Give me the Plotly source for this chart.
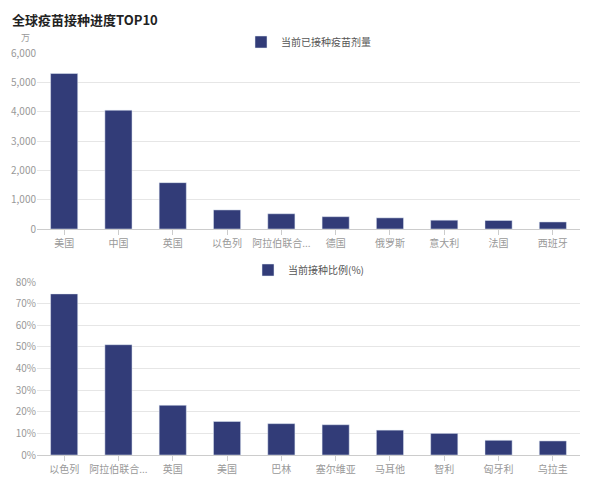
import plotly.graph_objects as go

top_cats = ['美国', '中国', '英国', '以色列', '阿拉伯联合...', '德国', '俄罗斯', '意大利', '法国', '西班牙']
top_vals = [5300, 4050, 1580, 650, 520, 420, 380, 300, 290, 240]
bot_cats = ['以色列', '阿拉伯联合...', '英国', '美国', '巴林', '塞尔维亚', '马耳他', '智利', '匈牙利', '乌拉圭']
bot_vals = [74.5, 51, 23, 15.5, 14.5, 14, 11.5, 10, 6.8, 6.5]

bar = '#323c78'
grid = '#e6e6e6'
axc = '#999999'
H = 468  # page body has an 8px margin

fig = go.Figure()
fig.add_bar(x=top_cats, y=top_vals, marker_color=bar, width=0.5, name='当前已接种疫苗剂量',
            xaxis='x', yaxis='y', legend='legend', showlegend=True)
fig.add_bar(x=bot_cats, y=bot_vals, marker_color=bar, width=0.5, name='当前接种比例(%)',
            xaxis='x2', yaxis='y2', legend='legend2', showlegend=True)

ax = dict(showgrid=False, linecolor='#cccccc', ticks='outside', tickcolor='#cccccc',
          tickfont=dict(size=10, color=axc))
fig.update_layout(
    width=578, height=H, paper_bgcolor='white', plot_bgcolor='white',
    margin=dict(l=29, r=6, t=0, b=0, autoexpand=False),
    font=dict(family='Noto Sans CJK SC', color=axc),
    xaxis=dict(**ax, domain=[0, 1], anchor='y'),
    yaxis=dict(domain=[(H - 221) / H, (H - 45) / H], range=[0, 6000], dtick=1000,
               tickformat=',', gridcolor=grid, tickfont=dict(size=10, color=axc), zeroline=False),
    xaxis2=dict(**ax, domain=[0, 1], anchor='y2'),
    yaxis2=dict(domain=[(H - 447) / H, (H - 274) / H], range=[0, 80], dtick=10,
                ticksuffix='%', gridcolor=grid, tickfont=dict(size=10, color=axc), zeroline=False),
    legend=dict(x=0.5, xanchor='center', y=(H - 34) / H, yanchor='middle', orientation='h',
                font=dict(size=10, color='#555')),
    legend2=dict(x=0.5, xanchor='center', y=(H - 262) / H, yanchor='middle', orientation='h',
                 font=dict(size=10, color='#555')),
    annotations=[
        dict(text='<b>全球疫苗接种进度TOP10</b>', x=-0.05, y=1, xref='paper', yref='paper',
             xanchor='left', yanchor='top', showarrow=False,
             font=dict(size=13, color='#222')),
        dict(text='万', x=-0.01, y=(H - 29) / H, xref='paper', yref='paper',
             xanchor='right', yanchor='middle', showarrow=False, font=dict(size=9, color=axc)),
    ],
)
fig.write_html('out.html')
